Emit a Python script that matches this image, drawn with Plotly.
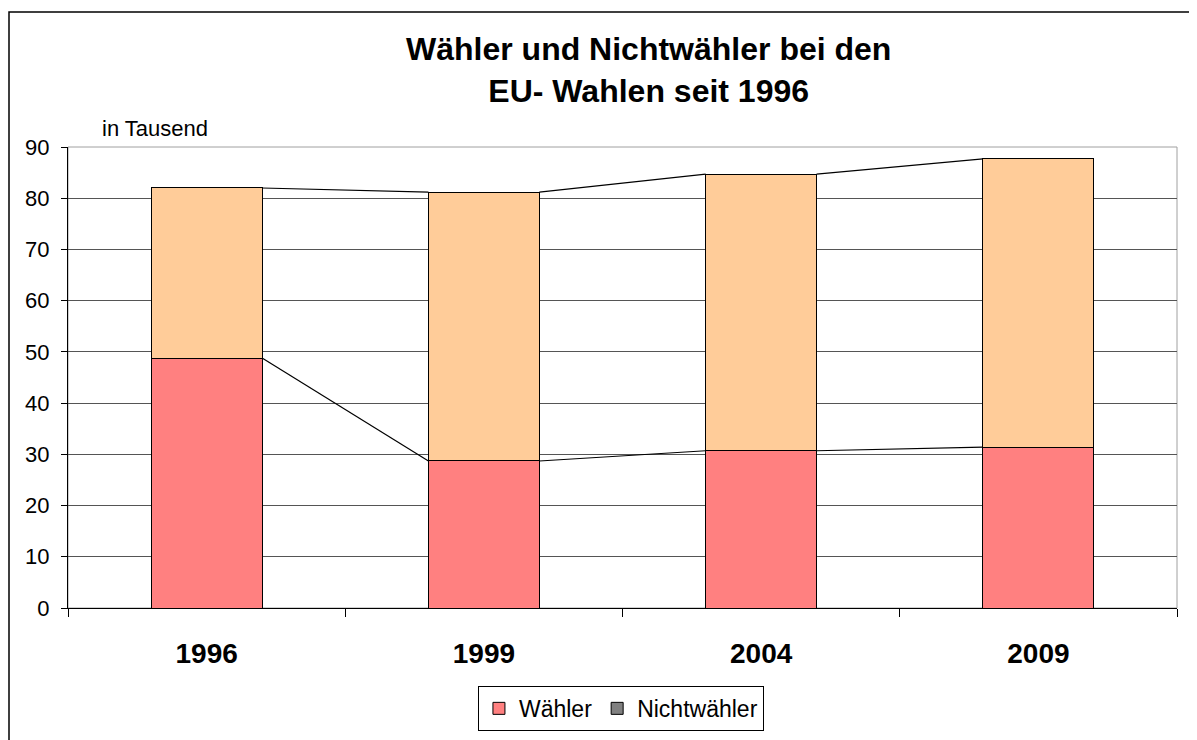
import plotly.graph_objects as go

years = ["1996", "1999", "2004", "2009"]
waehler = [48.8, 28.7, 30.7, 31.4]
nichtwaehler = [33.2, 52.5, 54.0, 56.3]
yticks = [0, 10, 20, 30, 40, 50, 60, 70, 80, 90]

FONT = "Liberation Sans, Arial, Helvetica, sans-serif"
pos = list(range(len(years)))
bw = 0.4
totals = [w + n for w, n in zip(waehler, nichtwaehler)]

fig = go.Figure()
fig.add_trace(go.Bar(x=pos, y=waehler, width=bw, name="Wähler",
                     marker=dict(color="#FF8080", line=dict(color="black", width=1))))
fig.add_trace(go.Bar(x=pos, y=nichtwaehler, width=bw, name="Nichtwähler", showlegend=False,
                     marker=dict(color="#FFCC99", line=dict(color="black", width=1))))
# legend-only entry as in the reference (grey swatch)
fig.add_trace(go.Bar(x=[None], y=[None], name="Nichtwähler",
                     marker=dict(color="#808080", line=dict(color="black", width=1))))

# series lines
for series in (waehler, totals):
    xs, ys = [], []
    for i in range(len(series) - 1):
        xs += [pos[i] + bw / 2, pos[i + 1] - bw / 2, None]
        ys += [series[i], series[i + 1], None]
    fig.add_trace(go.Scatter(x=xs, y=ys, mode="lines", showlegend=False, hoverinfo="skip",
                             line=dict(color="black", width=1.2)))

fig.update_layout(
    barmode="stack",
    width=1197, height=740,
    margin=dict(l=60, r=28, t=139, b=140),
    paper_bgcolor="white", plot_bgcolor="white",
    font=dict(family=FONT, color="black", size=22),
    legend=dict(orientation="h", x=0.4986, xanchor="center", y=-0.169, yanchor="top",
                bordercolor="black", borderwidth=1, font=dict(size=23, family=FONT),
                traceorder="normal", itemwidth=30, tracegroupgap=0),
    xaxis=dict(range=[-0.5, 3.5], tickmode="array", tickvals=pos, ticktext=["<b>%s</b>" % y for y in years],
               ticks="", tickfont=dict(size=28, family=FONT), showline=True, linecolor="black",
               linewidth=1, showgrid=False, zeroline=False, ticklabelstandoff=20,
               minor=dict(tickmode="array", tickvals=[-0.5, 0.5, 1.5, 2.5, 3.5], ticks="outside",
                          ticklen=8, tickcolor="black", showgrid=False)),
    yaxis=dict(range=[0, 90], tickmode="array", tickvals=yticks, ticks="outside", ticklen=6,
               tickcolor="black", showline=True, linecolor="black", linewidth=1,
               showgrid=True, gridcolor="#555555", gridwidth=1, zeroline=False,
               ticklabelstandoff=7, tickfont=dict(size=22, family=FONT)),
    annotations=[
        dict(text="<b>Wähler und Nichtwähler bei den<br>EU- Wahlen seit 1996</b>",
             xref="paper", yref="paper", x=0.523, y=1.167, xanchor="center", yanchor="middle",
             showarrow=False, font=dict(size=32, family=FONT)),
        dict(text="in Tausend", xref="paper", yref="paper", x=0.0289, y=1.041,
             xanchor="left", yanchor="middle", showarrow=False,
             font=dict(size=22, family=FONT)),
    ],
    shapes=[
        dict(type="rect", xref="paper", yref="paper", x0=0, y0=0, x1=1, y1=1,
             line=dict(color="#A0A0A0", width=1), layer="below"),
        dict(type="rect", xref="paper", yref="paper", x0=-0.0532, y0=-0.5, x1=1.2, y1=1.2928,
             line=dict(color="black", width=1.5)),
    ],
    bargap=0.6,
)

fig.write_html("out.html")
